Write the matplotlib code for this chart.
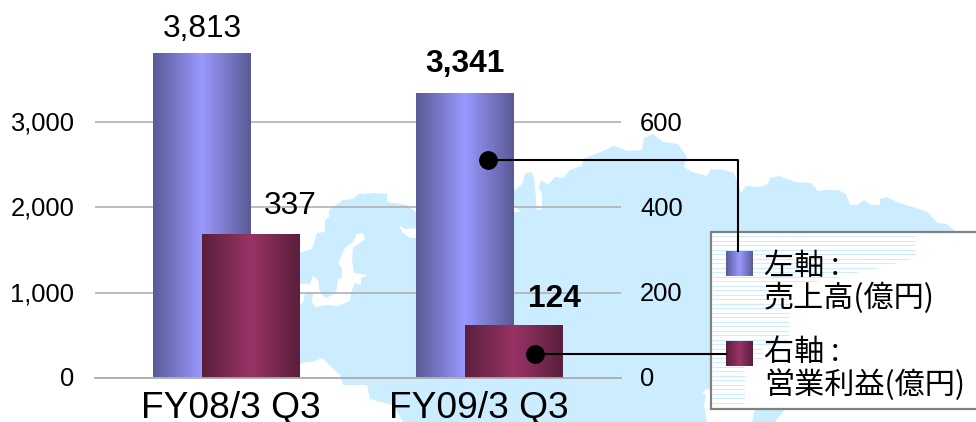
import numpy as np
import matplotlib
matplotlib.use("Agg")
import matplotlib.pyplot as plt
from matplotlib.colors import LinearSegmentedColormap
from matplotlib.patches import Polygon, Rectangle
from matplotlib.transforms import ScaledTranslation

plt.rcParams["font.family"] = ["Liberation Sans", "Noto Sans CJK JP"]

# -------------------------------------------------------------------
# Data
# -------------------------------------------------------------------
categories = ["FY08/3 Q3", "FY09/3 Q3"]
sales = [3813, 3341]
profit = [337, 124]
sales_labels = ["3,813", "3,341"]
profit_labels = ["337", "124"]
left_ticks = [0, 1000, 2000, 3000]
left_ticklabels = ["0", "1,000", "2,000", "3,000"]
right_ticks = [0, 200, 400, 600]
right_ticklabels = ["0", "200", "400", "600"]
legend_sales = "左軸 :\n売上高(億円)"
legend_profit = "右軸 :\n営業利益(億円)"

# background map outline, in picture pixels
map_outline = [
    (290, 253), (299, 253), (312, 249), (317, 233), (325, 232), (325, 220), (329, 217), (329, 210),
    (343, 200), (353, 199), (360, 193), (363, 194), (375, 193), (387, 194), (387, 202), (407, 205),
    (417, 213), (515, 190), (522, 184), (525, 174), (531, 172), (534, 177), (537, 210), (542, 209),
    (542, 195), (539, 187), (541, 180), (548, 185), (555, 177), (563, 178), (570, 170), (581, 166),
    (585, 158), (598, 153), (614, 146), (627, 151), (642, 150), (644, 138), (653, 134), (663, 142),
    (678, 144), (687, 157), (684, 167), (692, 172), (707, 176), (711, 169), (725, 170), (734, 173),
    (741, 193), (746, 186), (759, 187), (768, 184), (770, 178), (779, 176), (796, 182), (811, 183),
    (818, 191), (826, 190), (838, 190), (846, 194), (850, 205), (857, 205), (864, 200), (871, 205),
    (880, 205), (880, 199), (887, 197), (899, 203), (916, 208), (927, 212), (938, 223), (947, 224),
    (955, 231), (976, 300), (785, 409), (775, 422), (752, 422), (755, 409), (712, 409), (711, 389),
    (707, 389), (702, 392), (706, 396), (704, 405), (707, 422), (403, 422), (393, 405), (370, 399),
    (367, 385), (343, 385), (340, 375), (322, 358), (312, 362), (307, 362), (290, 367),
]
map_holes = [
    [(290, 283), (310, 284), (313, 276), (318, 280), (320, 293), (326, 298), (336, 293), (338, 279),
     (342, 278), (342, 268), (338, 263), (345, 248), (353, 242), (357, 234), (363, 233), (365, 239),
     (353, 248), (352, 260), (354, 273), (368, 275), (361, 278), (361, 285), (355, 283), (351, 293),
     (350, 301), (338, 306), (328, 305), (315, 307), (312, 302), (313, 293), (305, 293), (303, 303),
     (290, 307)],
    [(399, 225), (402, 232), (410, 238), (420, 238), (420, 228), (405, 229)],
    [(510, 205), (515, 207), (521, 212), (510, 212)],
]
stripe_area = [
    (711, 232), (916, 232), (916, 258), (900, 262), (880, 268), (860, 272), (830, 280), (790, 285),
    (790, 340), (763, 348), (763, 360), (745, 365), (745, 405), (711, 405),
]

map_color = "#CCECFF"
blue_cmap = LinearSegmentedColormap.from_list("blue_bar", ["#5A5A96", "#9999FF", "#5A5A96"])
red_cmap = LinearSegmentedColormap.from_list("red_bar", ["#5A1F3C", "#993366", "#5A1F3C"])
gradient = np.linspace(0, 1, 256).reshape(1, -1)

W, H = 976, 422
fig = plt.figure(figsize=(W / 100, H / 100), dpi=100)

# -------------------------------------------------------------------
# Background map (pixel coordinates)
# -------------------------------------------------------------------
bg = fig.add_axes([0, 0, 1, 1], zorder=0)
bg.set_xlim(0, W)
bg.set_ylim(H, 0)
bg.axis("off")
bg.add_patch(Polygon(map_outline, closed=True, fc=map_color, ec="none"))
for hole in map_holes:
    bg.add_patch(Polygon(hole, closed=True, fc="white", ec="none"))

# -------------------------------------------------------------------
# Bars on two axes
# -------------------------------------------------------------------
ax = fig.add_axes([95 / W, 1 - 378 / H, 526 / W, 341.33 / H], zorder=1)
ax.patch.set_visible(False)
ax2 = ax.twinx()
ax2.set_zorder(2)
ax2.patch.set_visible(False)

x = np.arange(len(categories))
width = 0.37
offset = 0.093


def gradient_bars(axis, xs, values, cmap):
    bars = axis.bar(xs, values, width, color="none", edgecolor="none")
    for bar in bars:
        im = axis.imshow(gradient, cmap=cmap, aspect="auto", interpolation="bilinear", zorder=2,
                         extent=(bar.get_x(), bar.get_x() + bar.get_width(), 0, bar.get_height()))
        im.set_clip_path(bar)
    return bars


gradient_bars(ax, x - offset, sales, blue_cmap)
gradient_bars(ax2, x + offset, profit, red_cmap)

ax.set_xlim(-0.5, 1.5)
ax.set_ylim(0, 4000)
ax2.set_ylim(0, 800)

ax.set_xticks(x, categories, fontsize=26.7, color="black")
ax.set_yticks(left_ticks, left_ticklabels, fontsize=18.4)
ax2.set_yticks(right_ticks, right_ticklabels, fontsize=18.4)
ax.tick_params(axis="x", length=0, pad=9.5)
ax.tick_params(axis="y", length=0, pad=15)
ax2.tick_params(axis="y", length=0, pad=13.7)
ax.grid(axis="y", color="#B0B0B0", lw=1.2)
ax.set_axisbelow(True)
for a in (ax, ax2):
    for side in ("top", "left", "right"):
        a.spines[side].set_visible(False)
    a.spines["bottom"].set_color("#B0B0B0")
    a.spines["bottom"].set_linewidth(1.2)

# category labels do not sit quite under the groups in the original
for label, dx in zip(ax.get_xticklabels(), [4, -11]):
    label.set_transform(label.get_transform() + ScaledTranslation(dx / 100, 0, fig.dpi_scale_trans))
for label in ax.get_yticklabels() + ax2.get_yticklabels():
    label.set_transform(label.get_transform() + ScaledTranslation(0, 1 / 100, fig.dpi_scale_trans))

ax.annotate(sales_labels[0], (x[0] - offset, sales[0]), xytext=(0, 17), textcoords="offset points",
            ha="center", va="center", fontsize=22.8, annotation_clip=False)
ax.annotate(sales_labels[1], (x[1] - offset, sales[1]), xytext=(0, 21), textcoords="offset points",
            ha="center", va="center", fontsize=22.8, fontweight="bold", annotation_clip=False)
ax2.annotate(profit_labels[0], (x[0] + offset, profit[0]), xytext=(28, 20.5), textcoords="offset points",
             ha="center", va="center", fontsize=22.8)
ax2.annotate(profit_labels[1], (x[1] + offset, profit[1]), xytext=(29, 19), textcoords="offset points",
             ha="center", va="center", fontsize=22.8, fontweight="bold")

# -------------------------------------------------------------------
# Legend box and connector lines (pixel coordinates)
# -------------------------------------------------------------------
top = fig.add_axes([0, 0, 1, 1], zorder=3)
top.set_xlim(0, W)
top.set_ylim(H, 0)
top.axis("off")
top.patch.set_visible(False)

top.add_patch(Rectangle((711, 232), 300, 177, fc="white", ec="#808080", lw=1.6, zorder=1))
clip = Polygon(stripe_area, closed=True, transform=top.transData)
stripes = top.hlines(np.arange(236, 405, 4.5), 712, 920, color=map_color, lw=0.7, zorder=2)
stripes.set_clip_path(clip)

top.imshow(gradient, cmap=blue_cmap, aspect="auto", extent=(726, 753, 276, 251), zorder=3)
top.imshow(gradient, cmap=red_cmap, aspect="auto", extent=(726, 753, 366, 341), zorder=3)
top.set_xlim(0, W)
top.set_ylim(H, 0)

top.plot([488, 738, 738], [160, 160, 251], color="black", lw=1.5, zorder=4)
top.plot([535, 726], [354, 354], color="black", lw=1.5, zorder=4)
top.plot([488, 535], [160, 354], ls="none", marker="o", ms=12.5, color="black", zorder=5)

top.text(764, 282, legend_sales, fontsize=21.7, va="center", ha="left", linespacing=1.03, zorder=6,
         family=["Noto Sans CJK JP", "Liberation Sans"])
top.text(764, 369, legend_profit, fontsize=21.7, va="center", ha="left", linespacing=1.03, zorder=6,
         family=["Noto Sans CJK JP", "Liberation Sans"])

fig.savefig("out.png", dpi=100)
